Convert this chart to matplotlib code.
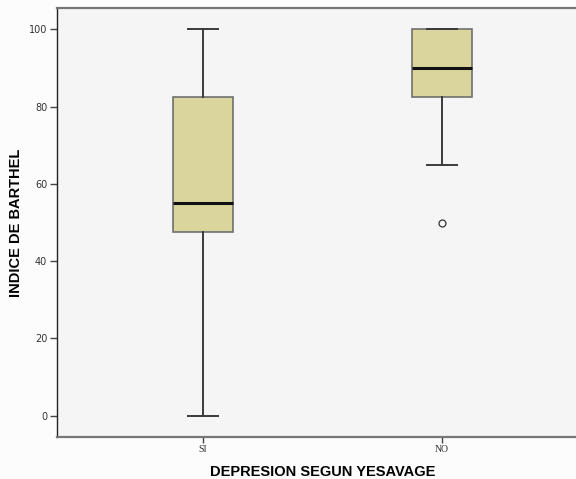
import matplotlib
matplotlib.use("Agg")
import matplotlib.pyplot as plt

# Barthel index by Yesavage depression group
groups = ["SI", "NO"]
whisker_low = [0, 65]
q1 = [47.5, 82.5]
median = [55, 90]
q3 = [82.5, 100]
whisker_high = [100, 100]
outliers = [[], [50]]

y_ticks = [0, 20, 40, 60, 80, 100]

stats = []
for i, name in enumerate(groups):
    stats.append({
        "label": name,
        "whislo": whisker_low[i],
        "q1": q1[i],
        "med": median[i],
        "q3": q3[i],
        "whishi": whisker_high[i],
        "fliers": outliers[i],
    })

fig = plt.figure(figsize=(5.76, 4.79), dpi=100)
fig.patch.set_facecolor("#fcfcfc")
ax = fig.add_axes([57 / 576, 42 / 479, 1 - 57 / 576, (437 - 8) / 479])
ax.set_facecolor("#f5f5f5")

ax.bxp(stats, positions=[1, 2], widths=0.25, patch_artist=True,
       boxprops=dict(facecolor="#d9d59c", edgecolor="#707070", linewidth=1.2),
       medianprops=dict(color="#111111", linewidth=2.2),
       whiskerprops=dict(color="#3a3a3a", linewidth=1.4),
       capprops=dict(color="#3a3a3a", linewidth=1.4),
       capwidths=0.125,
       flierprops=dict(marker="o", markersize=5, markerfacecolor="none",
                       markeredgecolor="#333333", markeredgewidth=0.9))

ax.set_xlim(0.39, 2.56)
ax.set_ylim(-5.5, 105.5)
ax.set_yticks(y_ticks)
ax.set_yticklabels([str(v) for v in y_ticks], fontsize=7, family="DejaVu Sans",
                   color="#333333")
ax.set_xticks([1, 2])
ax.set_xticklabels(groups, fontsize=7, family="Liberation Serif", color="#333333")
ax.tick_params(axis="y", length=5, width=1, color="#444444", pad=2)
ax.tick_params(axis="x", length=4, width=1, color="#444444", pad=2)

for side in ["top", "bottom"]:
    ax.spines[side].set_color("#777777")
    ax.spines[side].set_linewidth(1.6)
ax.spines["left"].set_color("#222222")
ax.spines["left"].set_linewidth(1.0)
ax.spines["right"].set_visible(False)

ax.set_xlabel("DEPRESION SEGUN YESAVAGE", fontsize=10.5, fontweight="bold",
              family="Liberation Sans")
ax.set_ylabel("INDICE DE BARTHEL", fontsize=10.5, fontweight="bold",
              family="Liberation Sans")
ax.xaxis.set_label_coords(0.5116, -0.066)
ax.yaxis.set_label_coords(-0.065, 0.5)

fig.savefig("out.png", dpi=100, facecolor=fig.get_facecolor())
